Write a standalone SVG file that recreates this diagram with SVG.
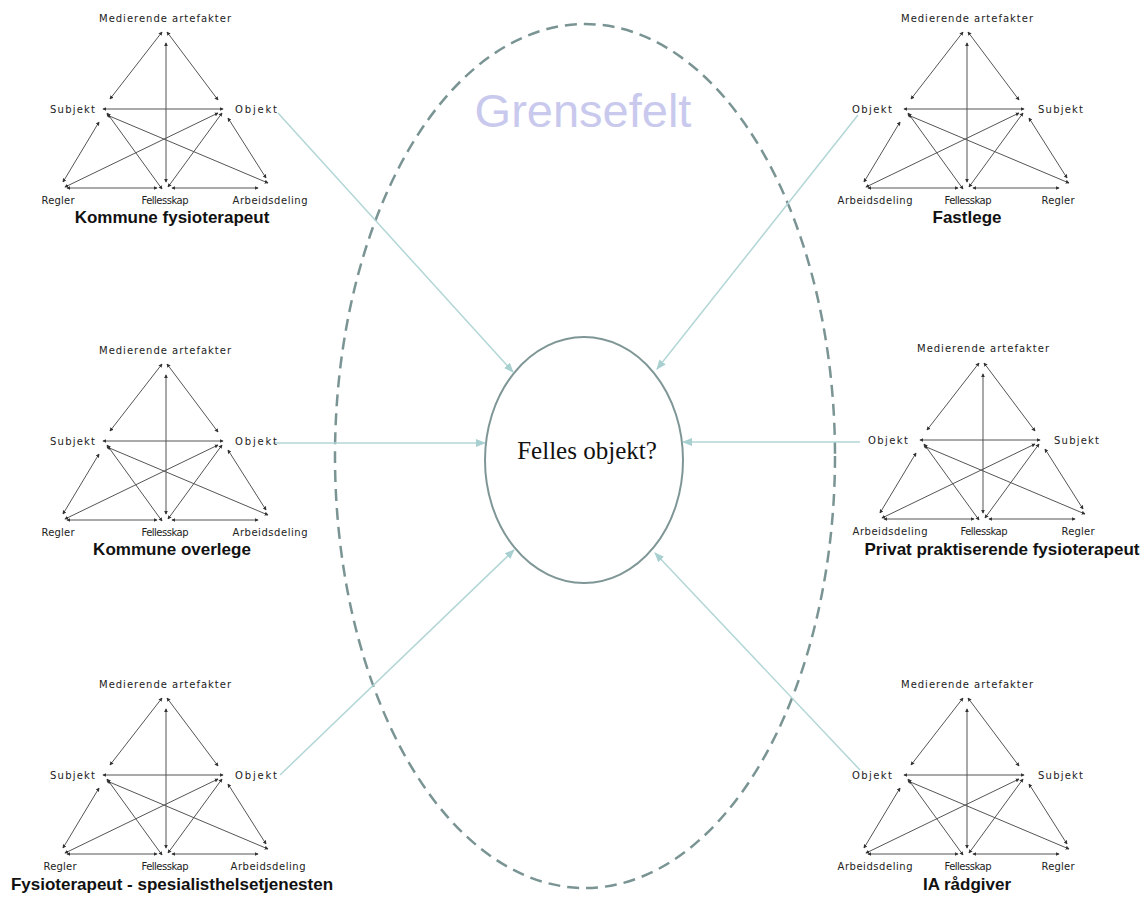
<svg xmlns="http://www.w3.org/2000/svg" xmlns:xlink="http://www.w3.org/1999/xlink" width="1146" height="906" viewBox="0 0 1146 906">
<style>
.lbl{font-family:"DejaVu Sans","Liberation Sans",sans-serif;font-size:10px;fill:#222}
.ttl{font-family:"Liberation Sans",Arial,sans-serif;font-size:17px;font-weight:bold;fill:#111}
.e{stroke:#555;stroke-width:1;fill:none;marker-start:url(#dh);marker-end:url(#dh)}
.con{stroke:#b3d6d6;stroke-width:1.5;fill:none;marker-end:url(#ah)}
</style>
<defs>
<marker id="dh" viewBox="0 0 6 6" refX="5" refY="3" markerWidth="4" markerHeight="4" markerUnits="userSpaceOnUse" orient="auto-start-reverse">
<path d="M0,0 L6,3 L0,6 Z" fill="#333"/>
</marker>
<marker id="ah" viewBox="0 0 10 10" refX="9" refY="5" markerWidth="10" markerHeight="10" markerUnits="userSpaceOnUse" orient="auto">
<path d="M0,1 L10,5 L0,9 Z" fill="#a9d0d0"/>
</marker>
<g id="tri">
<line class="e" x1="-3" y1="0" x2="-55" y2="67"/>
<line class="e" x1="2" y1="0" x2="53" y2="68"/>
<line class="e" x1="1" y1="11" x2="1" y2="150"/>
<line class="e" x1="-62" y1="77" x2="58" y2="77"/>
<line class="e" x1="-66" y1="90" x2="-102" y2="150"/>
<line class="e" x1="-58" y1="81" x2="-3" y2="157"/>
<line class="e" x1="-58" y1="83" x2="103" y2="151"/>
<line class="e" x1="53" y1="81" x2="-100" y2="155"/>
<line class="e" x1="57" y1="81" x2="3" y2="155"/>
<line class="e" x1="63" y1="86" x2="101" y2="146"/>
<line class="e" x1="-98" y1="156" x2="-8" y2="156"/>
<line class="e" x1="7" y1="156" x2="93" y2="156"/>
</g>
</defs>
<rect width="1146" height="906" fill="#fff"/>

<g id="grensefelt">
<ellipse cx="585" cy="456" rx="250" ry="432" fill="none" stroke="#7a9494" stroke-width="2.5" stroke-dasharray="12 7"/>
<text x="583" y="127" text-anchor="middle" font-family="Liberation Sans, Arial, sans-serif" font-size="47" fill="#c9c9ee">Grensefelt</text>
</g>

<g id="felles">
<ellipse cx="584" cy="460" rx="99" ry="123" fill="#fff" stroke="#7f9696" stroke-width="2"/>
<text x="587" y="459" text-anchor="middle" font-family="Liberation Serif, Times New Roman, serif" font-size="25" fill="#111">Felles objekt?</text>
</g>

<g id="connectors">
<line class="con" x1="278" y1="113" x2="513" y2="372"/>
<line class="con" x1="858" y1="115" x2="657" y2="369"/>
<line class="con" x1="273" y1="443" x2="485" y2="443"/>
<line class="con" x1="860" y1="442" x2="683" y2="442"/>
<line class="con" x1="280" y1="775" x2="514" y2="550"/>
<line class="con" x1="860" y1="770" x2="655" y2="553"/>
</g>

<g id="kommune-fysioterapeut">
<use href="#tri" x="165" y="32"/>
<text class="lbl" x="165" y="22" text-anchor="middle" textLength="132">Medierende artefakter</text>
<text class="lbl" x="95" y="113" text-anchor="end" textLength="45">Subjekt</text>
<text class="lbl" x="235" y="113" textLength="42">Objekt</text>
<text class="lbl" x="58" y="204" text-anchor="middle" textLength="33">Regler</text>
<text class="lbl" x="165" y="204" text-anchor="middle" textLength="47">Fellesskap</text>
<text class="lbl" x="270" y="204" text-anchor="middle" textLength="75">Arbeidsdeling</text>
<text class="ttl" x="172" y="223" text-anchor="middle">Kommune fysioterapeut</text>
</g>

<g id="kommune-overlege">
<use href="#tri" x="165" y="364"/>
<text class="lbl" x="165" y="354" text-anchor="middle" textLength="132">Medierende artefakter</text>
<text class="lbl" x="95" y="445" text-anchor="end" textLength="45">Subjekt</text>
<text class="lbl" x="235" y="445" textLength="42">Objekt</text>
<text class="lbl" x="58" y="536" text-anchor="middle" textLength="33">Regler</text>
<text class="lbl" x="165" y="536" text-anchor="middle" textLength="47">Fellesskap</text>
<text class="lbl" x="270" y="536" text-anchor="middle" textLength="75">Arbeidsdeling</text>
<text class="ttl" x="172" y="555" text-anchor="middle">Kommune overlege</text>
</g>

<g id="fysioterapeut-spesialist">
<use href="#tri" x="165" y="698"/>
<text class="lbl" x="165" y="688" text-anchor="middle" textLength="132">Medierende artefakter</text>
<text class="lbl" x="95" y="779" text-anchor="end" textLength="45">Subjekt</text>
<text class="lbl" x="235" y="779" textLength="42">Objekt</text>
<text class="lbl" x="60" y="870" text-anchor="middle" textLength="33">Regler</text>
<text class="lbl" x="165" y="870" text-anchor="middle" textLength="47">Fellesskap</text>
<text class="lbl" x="268" y="870" text-anchor="middle" textLength="75">Arbeidsdeling</text>
<text class="ttl" x="172" y="890" text-anchor="middle">Fysioterapeut - spesialisthelsetjenesten</text>
</g>

<g id="fastlege">
<use href="#tri" x="966" y="32"/>
<text class="lbl" x="967" y="22" text-anchor="middle" textLength="132">Medierende artefakter</text>
<text class="lbl" x="892" y="113" text-anchor="end" textLength="40">Objekt</text>
<text class="lbl" x="1038" y="113" textLength="45">Subjekt</text>
<text class="lbl" x="875" y="204" text-anchor="middle" textLength="75">Arbeidsdeling</text>
<text class="lbl" x="968" y="204" text-anchor="middle" textLength="47">Fellesskap</text>
<text class="lbl" x="1058" y="204" text-anchor="middle" textLength="33">Regler</text>
<text class="ttl" x="967" y="223" text-anchor="middle">Fastlege</text>
</g>

<g id="privat-fysioterapeut">
<use href="#tri" x="982" y="363"/>
<text class="lbl" x="983" y="352" text-anchor="middle" textLength="132">Medierende artefakter</text>
<text class="lbl" x="908" y="444" text-anchor="end" textLength="40">Objekt</text>
<text class="lbl" x="1054" y="444" textLength="45">Subjekt</text>
<text class="lbl" x="890" y="535" text-anchor="middle" textLength="75">Arbeidsdeling</text>
<text class="lbl" x="984" y="535" text-anchor="middle" textLength="47">Fellesskap</text>
<text class="lbl" x="1078" y="535" text-anchor="middle" textLength="33">Regler</text>
<text class="ttl" x="1002" y="555" text-anchor="middle">Privat praktiserende fysioterapeut</text>
</g>

<g id="ia-radgiver">
<use href="#tri" x="966" y="698"/>
<text class="lbl" x="967" y="688" text-anchor="middle" textLength="132">Medierende artefakter</text>
<text class="lbl" x="892" y="779" text-anchor="end" textLength="40">Objekt</text>
<text class="lbl" x="1038" y="779" textLength="45">Subjekt</text>
<text class="lbl" x="875" y="870" text-anchor="middle" textLength="75">Arbeidsdeling</text>
<text class="lbl" x="968" y="870" text-anchor="middle" textLength="47">Fellesskap</text>
<text class="lbl" x="1058" y="870" text-anchor="middle" textLength="33">Regler</text>
<text class="ttl" x="967" y="890" text-anchor="middle">IA rådgiver</text>
</g>
</svg>
